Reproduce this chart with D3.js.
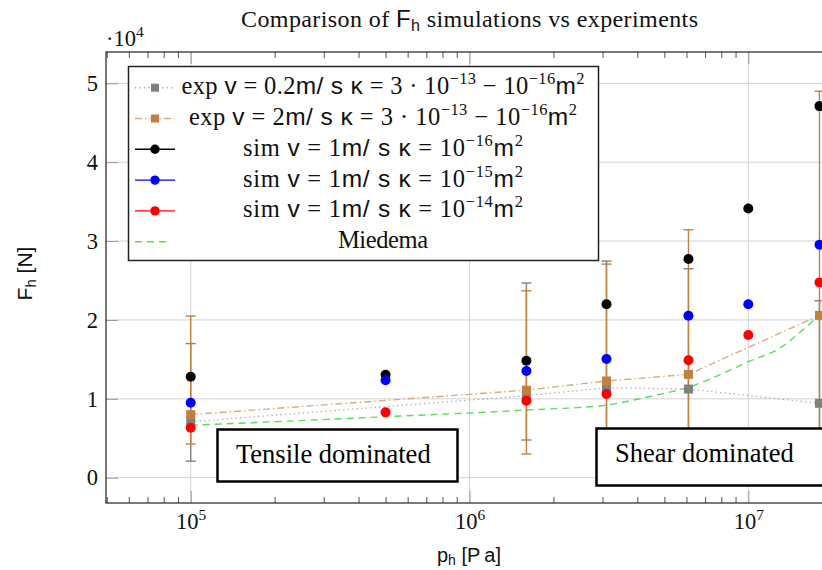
<!DOCTYPE html>
<html><head><meta charset="utf-8">
<script src="https://cdn.jsdelivr.net/npm/d3@7"></script>
<style>body{margin:0;background:#fff}svg{display:block}</style>
</head><body>
<svg id="chart" width="822" height="570"></svg>
<script>
// ---------- data ----------
const pressureExp = [1e5, 1.6e6, 3.1e6, 6.1e6, 1.8e7];
const expLowV = [7100, 10400, 11400, 11240, 9430];
const expLowVUpper = [17000, 24680, 27460, 26490, 22430];
const expLowVLower = [2100, 4780, 2500, 2000, 1000];
const expHighV = [8000, 11100, 12260, 13100, 20580];
const expHighVUpper = [20500, 23700, 27080, 31430, 49000];
const expHighVLower = [4270, 3000, 1000, 1000, 0];
const pressureSim = [1e5, 5e5, 1.6e6, 3.1e6, 6.1e6, 1e7, 1.8e7];
const simK16 = [12800, 13050, 14830, 21980, 27720, 34140, 47110];
const simK15 = [9500, 12350, 13520, 15040, 20530, 21980, 29530];
const simK14 = [6340, 8300, 9760, 10610, 14880, 18090, 24760];
const pressureMiedema = [1e5, 5e5, 1.6e6, 3.1e6, 4e6, 5e6, 6.1e6, 7.5e6, 1e7, 1.3e7, 1.6e7, 1.8e7];
const miedema = [6640, 7730, 8580, 9210, 9950, 10700, 11450, 12700, 14700, 16440, 19000, 20580];
const yTickValues = [0, 10000, 20000, 30000, 40000, 50000];
const yTickLabels = ["0", "1", "2", "3", "4", "5"];
const xTickValues = [1e5, 1e6, 1e7];
const xTickExponents = ["5", "6", "7"];

// ---------- setup ----------
const SERIF = "'Liberation Serif', 'Times New Roman', serif";
const SANS = "'Liberation Sans', Arial, sans-serif";
const svg = d3.select("#chart");
const L = 106, R = 832, T = 52, B = 503;
const x = d3.scaleLog().domain([Math.pow(10, 4.6962), Math.pow(10, 7.3002)]).range([L, R]);
const y = d3.scaleLinear().domain([-3207, 53970]).range([B, T]);

const minorX = [];
for (let e = 4; e <= 7; e++) for (let m = 2; m <= 9; m++) {
  const v = m * Math.pow(10, e);
  if (v > x.domain()[0] && v < x.domain()[1]) minorX.push(v);
}

svg.append("defs").append("clipPath").attr("id", "clip")
  .append("rect").attr("x", L).attr("y", T).attr("width", R - L).attr("height", B - T);

// grid
const grid = svg.append("g").attr("stroke", "#d2d2d2").attr("stroke-width", 1);
grid.selectAll(".gx").data(xTickValues).join("line")
  .attr("x1", d => x(d)).attr("x2", d => x(d)).attr("y1", T).attr("y2", B);
grid.selectAll(".gy").data(yTickValues).join("line")
  .attr("y1", d => y(d)).attr("y2", d => y(d)).attr("x1", L).attr("x2", R);

// axes
function styleAxis(g, color) {
  g.select(".domain").remove();
  g.selectAll(".tick line").attr("stroke", color);
}
svg.append("g").attr("transform", `translate(0,${B})`)
  .call(d3.axisBottom(x).tickValues(minorX).tickSize(-6).tickFormat(""))
  .call(g => styleAxis(g, "#555"));
svg.append("g").attr("transform", `translate(0,${T})`)
  .call(d3.axisTop(x).tickValues(minorX).tickSize(-6).tickFormat(""))
  .call(g => styleAxis(g, "#555"));
svg.append("g").attr("transform", `translate(0,${T})`)
  .call(d3.axisTop(x).tickValues(xTickValues).tickSize(-12).tickFormat(""))
  .call(g => styleAxis(g, "#999"));
const xAxis = svg.append("g").attr("transform", `translate(0,${B})`)
  .call(d3.axisBottom(x).tickValues(xTickValues).tickSize(-12).tickPadding(10))
  .call(g => styleAxis(g, "#999"));
xAxis.selectAll(".tick text").each(function(d, i) {
  const t = d3.select(this);
  t.text(null).attr("font-family", SERIF).attr("font-size", 22.5).attr("fill", "#111");
  t.append("tspan").text("10");
  t.append("tspan").attr("font-size", 15.5).attr("dy", -9).text(xTickExponents[i]);
});
const yAxis = svg.append("g").attr("transform", `translate(${L},0)`)
  .call(d3.axisLeft(y).tickValues(yTickValues).tickSize(-12).tickPadding(8)
    .tickFormat((d, i) => yTickLabels[i]))
  .call(g => styleAxis(g, "#999"));
yAxis.selectAll(".tick text").attr("font-family", SERIF).attr("font-size", 22.5).attr("fill", "#111");

// ---------- series ----------
const plot = svg.append("g").attr("clip-path", "url(#clip)");
const GRAY = "#808080", BROWN = "#bf8040", GREEN = "#55e055";
const line = d3.line().x(d => x(d[0])).y(d => y(d[1]));
const zip = (a, b) => a.map((v, i) => [v, b[i]]);

plot.append("path").datum(zip(pressureExp, expLowV)).attr("d", line)
  .attr("fill", "none").attr("stroke", "#a8a8a8").attr("stroke-width", 1.3).attr("stroke-dasharray", "1.3,3.2");
plot.append("path").datum(zip(pressureExp, expHighV)).attr("d", line)
  .attr("fill", "none").attr("stroke", "#d6ad85").attr("stroke-width", 1.4).attr("stroke-dasharray", "7,3,1.5,3");
plot.append("path").datum(zip(pressureMiedema, miedema)).attr("d", d3.line().curve(d3.curveMonotoneX).x(d => x(d[0])).y(d => y(d[1])))
  .attr("fill", "none").attr("stroke", GREEN).attr("stroke-width", 1.4).attr("stroke-dasharray", "7,5");

function errorBars(vals, upper, lower, color) {
  const g = plot.append("g").attr("stroke", color).attr("stroke-width", 1.4);
  pressureExp.forEach((p, i) => {
    const cx = x(p);
    g.append("line").attr("x1", cx).attr("x2", cx).attr("y1", y(upper[i])).attr("y2", y(lower[i]));
    g.append("line").attr("x1", cx - 5).attr("x2", cx + 5).attr("y1", y(upper[i])).attr("y2", y(upper[i]));
    g.append("line").attr("x1", cx - 5).attr("x2", cx + 5).attr("y1", y(lower[i])).attr("y2", y(lower[i]));
  });
}
errorBars(expLowV, expLowVUpper, expLowVLower, GRAY);
errorBars(expHighV, expHighVUpper, expHighVLower, BROWN);

function squares(vals, color) {
  plot.append("g").selectAll("rect").data(zip(pressureExp, vals)).join("rect")
    .attr("x", d => x(d[0]) - 4.5).attr("y", d => y(d[1]) - 4.5)
    .attr("width", 9).attr("height", 9).attr("fill", color);
}
function circles(vals, color) {
  plot.append("g").selectAll("circle").data(zip(pressureSim, vals)).join("circle")
    .attr("cx", d => x(d[0])).attr("cy", d => y(d[1])).attr("r", 5).attr("fill", color);
}
squares(expLowV, GRAY);
squares(expHighV, BROWN);
circles(simK16, "#000");
circles(simK15, "#0000ff");
circles(simK14, "#ff0000");

// frame
svg.append("rect").attr("x", L).attr("y", T).attr("width", R - L).attr("height", B - T)
  .attr("fill", "none").attr("stroke", "#222").attr("stroke-width", 1.2);

// ---------- annotation boxes ----------
function box(x0, y0, w, h, label, tx, ty) {
  svg.append("rect").attr("x", x0).attr("y", y0).attr("width", w).attr("height", h)
    .attr("fill", "#fff").attr("stroke", "#000").attr("stroke-width", 2.5);
  svg.append("text").attr("x", tx).attr("y", ty).attr("font-family", SERIF)
    .attr("font-size", 26.5).attr("fill", "#000").text(label);
}
box(217.5, 429.5, 240, 52, "Tensile dominated", 236, 463);
box(596.5, 428.5, 232, 57, "Shear dominated", 615, 462);

// ---------- legend ----------
const legendItems = [
  {color: GRAY, line: "#a8a8a8", dash: "1.3,3.2", marker: "square",
   parts: [["exp ", "r"], ["v", "s"], [" = 0.2", "r"], ["m/ s κ", "s"], [" = 3 · 10", "r"], ["−13", "sup"], [" − 10", "r"], ["−16", "sup"], ["m", "s"], ["2", "sup"]], w: 403},
  {color: BROWN, line: "#d6ad85", dash: "7,3,1.5,3", marker: "square",
   parts: [["exp ", "r"], ["v", "s"], [" = 2", "r"], ["m/ s κ", "s"], [" = 3 · 10", "r"], ["−13", "sup"], [" − 10", "r"], ["−16", "sup"], ["m", "s"], ["2", "sup"]], w: 388},
  {color: "#000", line: "#000", dash: null, marker: "circle",
   parts: [["sim ", "r"], ["v", "s"], [" = 1", "r"], ["m/ s κ", "s"], [" = 10", "r"], ["−16", "sup"], ["m", "s"], ["2", "sup"]], w: 280},
  {color: "#0000ff", line: "#0000ff", dash: null, marker: "circle",
   parts: [["sim ", "r"], ["v", "s"], [" = 1", "r"], ["m/ s κ", "s"], [" = 10", "r"], ["−15", "sup"], ["m", "s"], ["2", "sup"]], w: 280},
  {color: "#ff0000", line: "#ff0000", dash: null, marker: "circle",
   parts: [["sim ", "r"], ["v", "s"], [" = 1", "r"], ["m/ s κ", "s"], [" = 10", "r"], ["−14", "sup"], ["m", "s"], ["2", "sup"]], w: 280},
  {color: GREEN, line: GREEN, dash: "7,5", marker: null,
   parts: [["Miedema", "r"]], w: 90}
];
const leg = svg.append("g");
leg.append("rect").attr("x", 128.5).attr("y", 66.5).attr("width", 470).attr("height", 194)
  .attr("fill", "#fff").attr("stroke", "#222").attr("stroke-width", 1.5);
const legCenter = 383;
legendItems.forEach((it, i) => {
  const cy = 87.7 + i * 30.8;
  leg.append("line").attr("x1", 135).attr("x2", it.marker ? 175 : 170).attr("y1", cy).attr("y2", cy)
    .attr("stroke", it.line).attr("stroke-width", 1.4).attr("stroke-dasharray", it.dash);
  if (it.marker === "square") leg.append("rect").attr("x", 151).attr("y", cy - 4).attr("width", 8).attr("height", 8).attr("fill", it.color);
  if (it.marker === "circle") leg.append("circle").attr("cx", 155).attr("cy", cy).attr("r", 4.7).attr("fill", it.color);
  const t = leg.append("text").attr("x", legCenter - it.w / 2).attr("y", cy + 6.5)
    .attr("font-size", 24.5).attr("fill", "#111").attr("textLength", it.w).attr("lengthAdjust", "spacing")
    .style("white-space", "pre");
  let raised = false;
  it.parts.forEach(([s, k]) => {
    const ts = t.append("tspan").text(s);
    if (k === "sup") {
      ts.attr("font-family", SERIF).attr("font-size", 16.5);
      if (!raised) { ts.attr("dy", -10); raised = true; }
    } else {
      ts.attr("font-family", k === "s" ? SANS : SERIF);
      if (raised) { ts.attr("dy", 10); raised = false; }
    }
  });
});

// ---------- titles ----------
const title = svg.append("text").attr("x", 241).attr("y", 27).attr("font-size", 24).attr("fill", "#111")
  .attr("textLength", 457).attr("lengthAdjust", "spacing").style("white-space", "pre");
title.append("tspan").attr("font-family", SERIF).text("Comparison of ");
title.append("tspan").attr("font-family", SANS).text("F");
title.append("tspan").attr("font-family", SANS).attr("font-size", 16).attr("dy", 4).text("h");
title.append("tspan").attr("font-family", SERIF).attr("dy", -4).text(" simulations vs experiments");

const mult = svg.append("text").attr("x", 106).attr("y", 46).attr("font-family", SERIF).attr("font-size", 22.5).attr("fill", "#111");
mult.append("tspan").text("·10");
mult.append("tspan").attr("font-size", 15.5).attr("dy", -9).text("4");

const yl = svg.append("text").attr("transform", "translate(32,273.5) rotate(-90)")
  .attr("text-anchor", "middle").attr("font-family", SANS).attr("font-size", 21).attr("fill", "#111");
yl.append("tspan").text("F");
yl.append("tspan").attr("font-size", 15).attr("dy", 4).text("h");
yl.append("tspan").attr("dy", -4).text(" [N]");

const xl = svg.append("text").attr("x", 469).attr("y", 562)
  .attr("text-anchor", "middle").attr("font-family", SANS).attr("font-size", 20).attr("fill", "#111");
xl.append("tspan").text("p");
xl.append("tspan").attr("font-size", 14).attr("dy", 3).text("h");
xl.append("tspan").attr("dy", -3).text(" [P\u2009a]");
</script>
</body></html>
